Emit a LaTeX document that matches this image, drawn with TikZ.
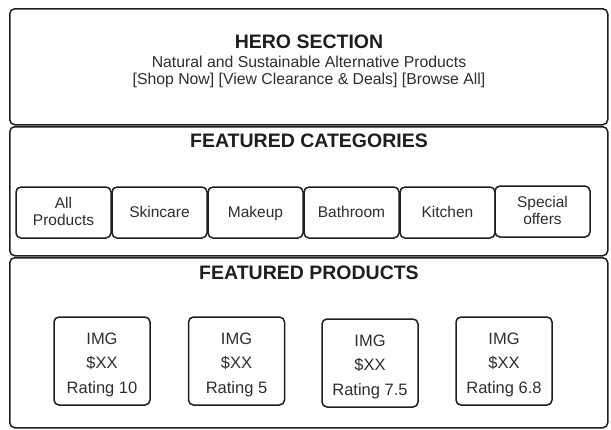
\documentclass[tikz,border=0pt]{standalone}
\usepackage{fontspec}
\setmainfont{Liberation Sans}
\definecolor{ink}{HTML}{1E1E1E}
\definecolor{txt}{HTML}{2E2E2E}
\newcommand{\ls}{\rule[-4.5pt]{0pt}{18.5pt}}
\newcommand{\fs}{\rule[-4pt]{0pt}{16pt}}
\newcommand{\ts}{\rule[-4pt]{0pt}{13pt}}
\newcommand{\ps}{\rule{0pt}{18.5pt}}
\begin{document}
\begin{tikzpicture}[x=1pt,y=-1pt,
  sec/.style={draw=ink, line width=1.5pt, rounded corners=5pt, inner sep=0pt, anchor=north west, fill=white},
  catbox/.style={draw=ink, line width=1.5pt, rounded corners=5pt, inner sep=0pt, minimum width=95pt, minimum height=51pt, align=center, font=\fontsize{15.5}{17}\selectfont, text=txt},
  prodbox/.style={draw=ink, line width=1.5pt, rounded corners=5pt, inner sep=0pt, minimum width=96pt, minimum height=88pt, align=center, font=\fontsize{16.5}{24.5}\selectfont, text=txt},
  heading/.style={font=\fontsize{19.5}{22}\bfseries\selectfont, text=ink, inner sep=0pt},
  sub/.style={font=\fontsize{15.8}{18}\selectfont, text=txt, inner sep=0pt}]
\useasboundingbox[fill=white] (0,0) rectangle (611,429);
% sections
\node[sec, minimum width=598pt, minimum height=116pt] (hero) at (9,8) {};
\node[sec, minimum width=598pt, minimum height=129pt] (cats) at (9,126) {};
\node[sec, minimum width=598pt, minimum height=170pt] (prods) at (9,257) {};
% hero texts
\node[heading] (herotitle) at (309,42) {HERO SECTION};
\node[sub] (herosub) at (309,62) {Natural and Sustainable Alternative Products};
\node[sub] (herolinks) at (309,80) {[Shop Now] [View Clearance \& Deals] [Browse All]};
% categories
\node[heading] (catstitle) at (309,141) {FEATURED CATEGORIES};
\node[catbox] (c1) at (63.5,212.5) {All\fs\\Products\ts};
\node[catbox] (c2) at (159.5,212.5) {Skincare\ls};
\node[catbox] (c3) at (255.5,212.5) {Makeup\ls};
\node[catbox] (c4) at (351.5,212.5) {Bathroom\ls};
\node[catbox] (c5) at (447.5,212.5) {Kitchen\ls};
\node[catbox] (c6) at (542.5,211.5) {Special\fs\\offers\ts};
% products
\node[heading] (prodstitle) at (309,273) {FEATURED PRODUCTS};
\node[prodbox] (p1) at (102,361) {\ps IMG\\\$XX\\Rating 10};
\node[prodbox] (p2) at (236.5,361) {\ps IMG\\\$XX\\Rating 5};
\node[prodbox] (p3) at (370,363) {\ps IMG\\\$XX\\Rating 7.5};
\node[prodbox] (p4) at (504,361) {\ps IMG\\\$XX\\Rating 6.8};
\end{tikzpicture}
\end{document}
